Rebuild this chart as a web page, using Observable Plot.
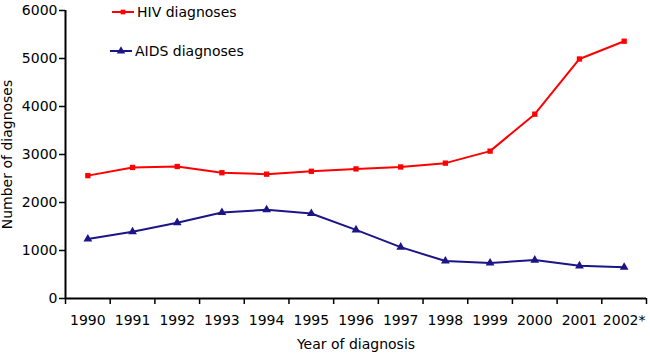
<!DOCTYPE html>
<html><head><meta charset="utf-8">
<script src="https://cdn.jsdelivr.net/npm/d3@7"></script>
<script src="https://cdn.jsdelivr.net/npm/@observablehq/plot@0.6"></script>
<style>
body{margin:0;background:#fff;font-family:"DejaVu Sans",Verdana,sans-serif;}
#wrap{position:relative;width:650px;height:354px;}
.leg{position:absolute;font-size:14px;color:#000;display:flex;align-items:center;white-space:nowrap;}
.leg svg{margin-right:3px;}
</style></head>
<body>
<div id="wrap"></div>
<script>
const years = [1990,1991,1992,1993,1994,1995,1996,1997,1998,1999,2000,2001,2002];
const yearLabels = ["1990","1991","1992","1993","1994","1995","1996","1997","1998","1999","2000","2001","2002*"];
const hiv = [2560,2730,2750,2620,2590,2650,2700,2740,2820,3070,3840,4990,5360];
const aids = [1240,1390,1580,1790,1850,1770,1430,1070,780,740,800,680,650];
const yTicks = [0,1000,2000,3000,4000,5000,6000];
const seriesNames = ["HIV diagnoses","AIDS diagnoses"];
const seriesColors = ["#ff0000","#1b1587"];
const seriesSymbols = ["square","triangle"];

const rows = years.flatMap((y,i)=>[
  {year:y, value:hiv[i], series:seriesNames[0]},
  {year:y, value:aids[i], series:seriesNames[1]}
]);
const boundaries = years.map(y=>y-0.5).concat([years[years.length-1]+0.5]);

const chart = Plot.plot({
  width:650, height:354,
  marginLeft:65, marginRight:4, marginTop:10, marginBottom:56,
  style:{fontFamily:"'DejaVu Sans', Verdana, sans-serif", fontSize:"14px", color:"#000", background:"#fff"},
  x:{domain:[boundaries[0], boundaries[boundaries.length-1]]},
  y:{domain:[0,6000]},
  color:{domain:seriesNames, range:seriesColors},
  symbol:{domain:seriesNames, range:seriesSymbols},
  marks:[
    Plot.axisY({ticks:yTicks, tickSize:6, tickPadding:2, fontSize:14, tickFormat:d=>String(d), label:"Number of diagnoses", labelAnchor:"center", labelArrow:"none", labelOffset:63, strokeWidth:1.5}),
    Plot.axisX({ticks:boundaries, tickSize:6, tickFormat:()=>"", label:null, strokeWidth:1.5}),
    Plot.axisX({ticks:years, tickSize:0, tickPadding:17, fontSize:14, tickFormat:d=>yearLabels[years.indexOf(d)], label:"Year of diagnosis", labelAnchor:"center", labelArrow:"none", labelOffset:50}),
    Plot.ruleY([0], {stroke:"#000", strokeWidth:2}),
    Plot.ruleX([boundaries[0]], {stroke:"#000", strokeWidth:2}),
    Plot.line(rows, {x:"year", y:"value", z:"series", stroke:"series", strokeWidth:2}),
    Plot.dot(rows, {x:"year", y:"value", fill:"series", stroke:null, symbol:"series", r:d=>d.series===seriesNames[0]?2.8:3.3})
  ]
});
const wrap = document.getElementById("wrap");
wrap.appendChild(chart);

function legendItem(i, left, top){
  const div = document.createElement("div");
  div.className = "leg";
  div.style.left = left+"px"; div.style.top = top+"px";
  const s = d3.create("svg").attr("width",22).attr("height",10);
  s.append("line").attr("x1",0).attr("x2",22).attr("y1",5).attr("y2",5).attr("stroke",seriesColors[i]).attr("stroke-width",2);
  const sym = seriesSymbols[i]==="square"?d3.symbolSquare:d3.symbolTriangle;
  s.append("path").attr("d",d3.symbol(sym, seriesSymbols[i]==="square"?22:30)()).attr("transform","translate(11,5)").attr("fill",seriesColors[i]);
  div.appendChild(s.node());
  const t = document.createElement("span"); t.textContent = seriesNames[i];
  div.appendChild(t);
  wrap.appendChild(div);
}
legendItem(0, 112, 4);
legendItem(1, 110, 43);
</script>
</body></html>
